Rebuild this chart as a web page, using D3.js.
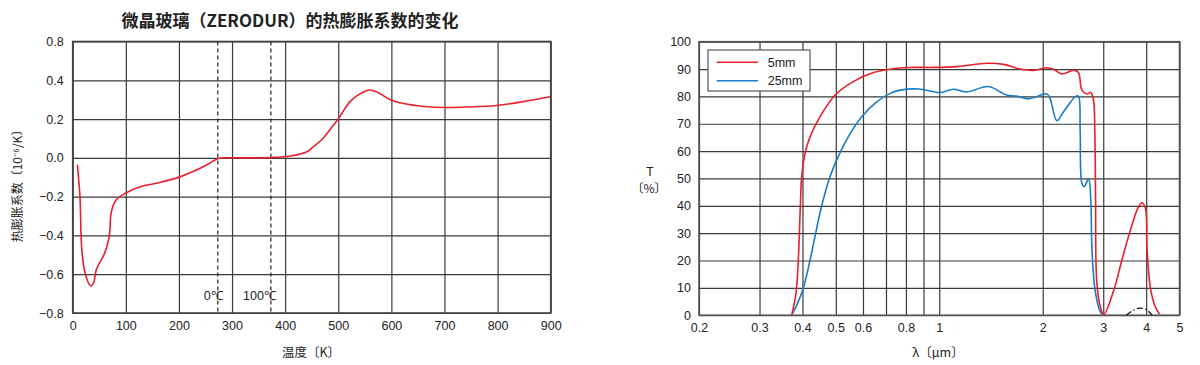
<!DOCTYPE html>
<html>
<head>
<meta charset="utf-8">
<script src="https://cdn.jsdelivr.net/npm/d3@7"></script>
<style>
  body { margin: 0; background: #fff; }
  svg text { font-family: "Liberation Sans", Arial, sans-serif; fill: #222; }
  .cjk { font-family: "Noto Sans CJK SC", sans-serif; }
</style>
</head>
<body>
<script>
// ---- left chart data: ZERODUR thermal expansion ----
var tempK = [8.7, 13.7, 16.8, 23, 33.5, 38.6, 44.7, 60.4, 68.5, 73, 82.4, 101, 127, 164, 202, 233, 255, 274, 300, 373, 415, 440, 452, 471, 487, 500, 522, 541, 559, 573, 598, 623, 661, 702, 742, 798, 848, 899];
var cte = [-0.035, -0.2, -0.46, -0.59, -0.66, -0.65, -0.575, -0.49, -0.41, -0.275, -0.215, -0.18, -0.149, -0.127, -0.098, -0.063, -0.032, -0.003, 0, 0.001, 0.012, 0.03, 0.055, 0.1, 0.155, 0.2, 0.29, 0.33, 0.35, 0.34, 0.30, 0.28, 0.265, 0.26, 0.262, 0.27, 0.29, 0.315];
var tempTicks = [0, 100, 200, 300, 400, 500, 600, 700, 800, 900];
var cteTicks = [-0.8, -0.6, -0.4, -0.2, 0, 0.2, 0.4, 0.8];
var markers = [{k: 273.15, label: "0℃"}, {k: 373.15, label: "100℃"}];

// ---- right chart data: transmittance ----
var lam5 = [0.372, 0.383, 0.389, 0.394, 0.398, 0.407, 0.421, 0.45, 0.498, 0.562, 0.644, 0.753, 0.84, 0.962, 1.126, 1.376, 1.538, 1.72, 1.88, 2.057, 2.15, 2.276, 2.46, 2.54, 2.6, 2.69, 2.76, 2.81, 2.835, 2.85, 2.87, 2.94, 3.01, 3.22, 3.4, 3.6, 3.8, 3.89, 3.98, 4.02, 4.11, 4.25, 4.38];
var t5 = [0, 8, 20.2, 38.5, 50.7, 59.2, 65.3, 72.6, 80.5, 85.4, 88.7, 90.3, 90.6, 90.6, 90.9, 92.1, 91.7, 90.0, 89.5, 90.5, 89.9, 88.2, 89.6, 88.7, 82.3, 80.9, 81.4, 78.7, 68, 42, 13, 3.1, 0.2, 9.2, 20.2, 31.2, 39.7, 41.1, 39, 25, 10.4, 3.1, 0.3];
var lam25 = [0.372, 0.385, 0.402, 0.421, 0.437, 0.455, 0.479, 0.503, 0.544, 0.595, 0.658, 0.72, 0.77, 0.87, 1.006, 1.1, 1.2, 1.39, 1.57, 1.68, 1.82, 2.057, 2.1, 2.2, 2.3, 2.49, 2.54, 2.57, 2.6, 2.64, 2.72, 2.76, 2.78, 2.84, 2.94, 3.0];
var t25 = [0, 3.7, 9.8, 20.2, 30, 40, 50, 56.7, 65.3, 72.6, 78, 81.1, 82.3, 82.7, 81.4, 82.6, 81.6, 83.6, 80.5, 80.1, 79.1, 80.9, 79.3, 71.1, 74.4, 79.9, 80.1, 67.7, 48.2, 47, 49.8, 42, 25, 9.2, 1.3, 0];
var lamThick = [3.5, 3.68, 3.84, 4.02, 4.16];
var tThick = [0, 1.9, 2.6, 1.9, 0];
var lamTicks = [0.2, 0.3, 0.4, 0.5, 0.6, 0.7, 0.8, 0.9, 1, 2, 3, 4, 5];
var tTicks = [0, 10, 20, 30, 40, 50, 60, 70, 80, 90, 100];
var seriesNames = ["5mm", "25mm"];
var seriesColors = ["#e8202b", "#1a7cc4"];

var svg = d3.select("body").append("svg").attr("width", 1200).attr("height", 365);

function styleGrid(g) {
  g.select(".domain").remove();
  g.selectAll(".tick line").attr("stroke", "#3a3a3a").attr("stroke-width", 1.2);
  g.selectAll(".tick text").attr("font-size", 12.5).attr("fill", "#222");
}

//// left chart ////
var x1 = d3.scaleLinear().domain([0, 900]).range([72.7, 550.7]);
// the printed axis jumps from 0.4 straight to 0.8 in one grid step
var y1 = d3.scaleLinear().domain([-0.8, 0.4, 0.8]).range([313, 80.3, 41.5]);

var left = svg.append("g");
left.append("g").attr("transform", "translate(0,313)")
  .call(d3.axisBottom(x1).tickValues(tempTicks).tickSize(-(313 - 41.5)).tickPadding(8))
  .call(styleGrid);
left.append("g").attr("transform", "translate(72.7,0)")
  .call(d3.axisLeft(y1).tickValues(cteTicks).tickSize(-(550.7 - 72.7)).tickPadding(9)
    .tickFormat(function(d){ return d < 0 ? "−" + Math.abs(d).toFixed(1) : d.toFixed(1); }))
  .call(styleGrid);
left.append("rect").attr("x", 72.7).attr("y", 41.5).attr("width", 478).attr("height", 313 - 41.5)
  .attr("fill", "none").attr("stroke", "#444").attr("stroke-width", 1.6);

left.selectAll("line.mark").data(markers).enter().append("line").attr("class", "mark")
  .attr("x1", function(d){ return x1(d.k); }).attr("x2", function(d){ return x1(d.k); })
  .attr("y1", 41.5).attr("y2", 313)
  .attr("stroke", "#222").attr("stroke-width", 1.2).attr("stroke-dasharray", "4,3");
left.selectAll("text.mark").data(markers).enter().append("text").attr("class", "mark")
  .attr("x", function(d){ return x1(d.k) + 5; }).attr("y", 300)
  .attr("text-anchor", "end").attr("font-size", 12.5)
  .text(function(d){ return d.label; });

var cteLine = d3.line().curve(d3.curveCatmullRom.alpha(0.5))
  .x(function(d, i){ return x1(tempK[i]); })
  .y(function(d){ return y1(d); });
left.append("path").attr("d", cteLine(cte)).attr("fill", "none")
  .attr("stroke", "#e8202b").attr("stroke-width", 1.6);

svg.append("text").attr("class", "cjk").attr("x", 290).attr("y", 27)
  .attr("text-anchor", "middle").attr("font-size", 17).attr("font-weight", 600)
  .text("微晶玻璃（ZERODUR）的热膨胀系数的变化");
svg.append("text").attr("class", "cjk").attr("transform", "translate(22,183) rotate(-90)")
  .attr("text-anchor", "middle").attr("font-size", 12)
  .text("热膨胀系数〔10⁻⁶/K〕");
svg.append("text").attr("class", "cjk").attr("x", 311).attr("y", 357)
  .attr("text-anchor", "middle").attr("font-size", 12.5)
  .text("温度〔K〕");

//// right chart ////
var x2 = d3.scaleLog().domain([0.2, 5]).range([699, 1179.5]);
var y2 = d3.scaleLinear().domain([0, 100]).range([315.2, 41.7]);

var right = svg.append("g");
right.append("g").attr("transform", "translate(0,315.2)")
  .call(d3.axisBottom(x2).tickValues(lamTicks).tickSize(-(315.2 - 41.7)).tickPadding(8)
    .tickFormat(function(d){ return (d === 0.7 || d === 0.9) ? "" : String(d); }))
  .call(styleGrid);
right.append("g").attr("transform", "translate(699,0)")
  .call(d3.axisLeft(y2).tickValues(tTicks).tickSize(-(1179.5 - 699)).tickPadding(8))
  .call(styleGrid);
right.append("rect").attr("x", 699).attr("y", 41.7).attr("width", 1179.5 - 699).attr("height", 315.2 - 41.7)
  .attr("fill", "none").attr("stroke", "#555").attr("stroke-width", 1.6);

var tLine = d3.line().curve(d3.curveCatmullRom.alpha(0.5))
  .x(function(d){ return x2(d[0]); })
  .y(function(d){ return y2(d[1]); });
right.append("path").attr("d", tLine(d3.zip(lamThick, tThick))).attr("fill", "none")
  .attr("stroke", "#111").attr("stroke-width", 1.3).attr("stroke-dasharray", "6,2.5,1.5,2.5");
right.append("path").attr("d", tLine(d3.zip(lam25, t25))).attr("fill", "none")
  .attr("stroke", seriesColors[1]).attr("stroke-width", 1.6);
right.append("path").attr("d", tLine(d3.zip(lam5, t5))).attr("fill", "none")
  .attr("stroke", seriesColors[0]).attr("stroke-width", 1.6);

// legend
var legend = right.append("g").attr("transform", "translate(708,50)");
legend.append("rect").attr("width", 102).attr("height", 41)
  .attr("fill", "#fff").attr("stroke", "#555").attr("stroke-width", 1.2);
var item = legend.selectAll("g.item").data(seriesNames).enter().append("g").attr("class", "item")
  .attr("transform", function(d, i){ return "translate(0," + (12.3 + i * 18.4) + ")"; });
item.append("line").attr("x1", 8.7).attr("x2", 50).attr("stroke-width", 1.6)
  .attr("stroke", function(d, i){ return seriesColors[i]; });
item.append("text").attr("x", 59.7).attr("dy", "0.35em").attr("font-size", 12.5).text(function(d){ return d; });

svg.append("text").attr("x", 650).attr("y", 176).attr("text-anchor", "middle").attr("font-size", 12).text("T");
svg.append("text").attr("class", "cjk").attr("x", 649).attr("y", 193).attr("text-anchor", "middle").attr("font-size", 12).text("〔%〕");
svg.append("text").attr("class", "cjk").attr("x", 938).attr("y", 357).attr("text-anchor", "middle").attr("font-size", 12.5).text("λ〔μm〕");
</script>
</body>
</html>
